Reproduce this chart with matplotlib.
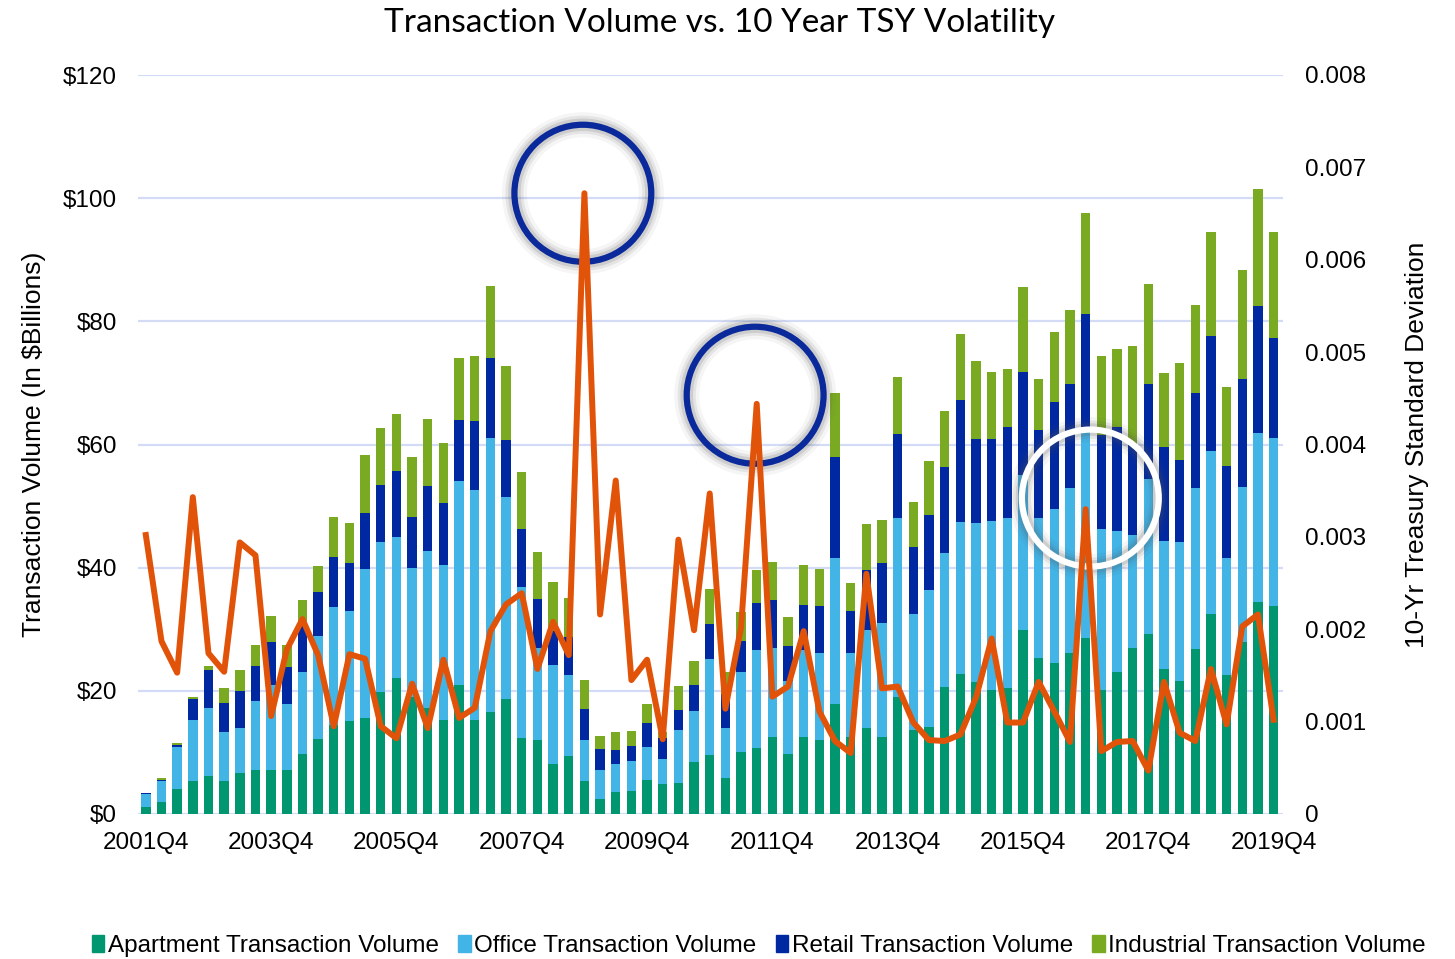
import matplotlib
matplotlib.use('Agg')
import matplotlib.pyplot as plt
import numpy as np
from matplotlib.patches import Ellipse, Patch

# quarters 2001Q4 .. 2019Q4 (73 bars)
n_quarters = 73
tick_labels = ['2001Q4', '2003Q4', '2005Q4', '2007Q4', '2009Q4',
               '2011Q4', '2013Q4', '2015Q4', '2017Q4', '2019Q4']

# transaction volume, $ billions
apartment = [1.2, 2.0, 4.1, 5.3, 6.2, 5.3, 6.6, 7.2, 7.2, 7.2,
             9.7, 12.1, 14.4, 15.1, 15.6, 19.8, 22.1, 19.0, 17.2, 15.3,
             21.0, 15.3, 16.5, 18.7, 12.3, 12.0, 8.1, 9.4, 5.3, 2.4,
             3.5, 3.7, 5.6, 4.9, 5.1, 8.5, 9.6, 5.9, 10.1, 10.7,
             12.5, 9.8, 12.5, 12.0, 17.8, 12.5, 13.9, 12.5, 19.0, 13.6,
             14.1, 20.6, 22.8, 21.4, 20.1, 20.4, 29.8, 25.3, 24.5, 26.2,
             28.6, 20.1, 23.0, 27.0, 29.3, 23.6, 21.6, 26.8, 32.4, 22.5,
             27.9, 34.4, 33.7]
office = [2.1, 3.3, 6.7, 9.9, 11.0, 8.0, 7.4, 11.2, 13.7, 10.6,
          13.4, 16.8, 19.2, 17.9, 24.2, 24.4, 22.9, 20.9, 25.5, 25.2,
          33.0, 37.3, 44.5, 32.7, 24.6, 14.9, 16.1, 13.2, 6.7, 4.8,
          4.6, 4.9, 5.2, 4.1, 8.5, 8.3, 15.6, 8.1, 12.9, 15.9,
          14.4, 11.8, 14.1, 14.1, 23.7, 13.7, 15.9, 18.5, 29.0, 18.8,
          22.2, 21.8, 24.6, 25.9, 27.5, 27.6, 25.2, 22.8, 25.0, 26.8,
          33.5, 26.1, 22.9, 18.3, 25.1, 20.8, 22.6, 26.2, 26.5, 19.1,
          25.2, 27.5, 27.3]
retail = [0.1, 0.3, 0.4, 3.5, 6.2, 4.7, 6.0, 5.7, 7.0, 6.0,
          7.6, 7.2, 8.2, 7.7, 9.1, 9.2, 10.7, 8.4, 10.5, 10.0,
          9.9, 11.2, 13.0, 9.4, 9.4, 8.0, 5.5, 6.2, 5.0, 3.4,
          2.3, 2.4, 3.9, 3.3, 3.3, 4.1, 5.7, 5.5, 5.1, 7.6,
          7.9, 5.6, 7.3, 7.6, 16.4, 6.7, 9.9, 9.8, 13.7, 10.9,
          12.3, 13.9, 19.9, 13.6, 13.3, 14.8, 16.7, 14.3, 17.4, 16.8,
          19.1, 15.3, 16.9, 14.8, 15.5, 15.2, 13.3, 15.3, 18.7, 14.9,
          17.5, 20.6, 16.3]
industrial = [0.0, 0.2, 0.4, 0.3, 0.7, 2.5, 3.4, 3.3, 4.3, 3.6,
              4.0, 4.2, 6.4, 6.6, 9.4, 9.2, 9.2, 9.6, 10.9, 9.8,
              10.2, 10.6, 11.7, 12.0, 9.3, 7.7, 8.0, 6.2, 4.7, 2.1,
              2.9, 2.4, 3.1, 1.0, 3.9, 4.0, 5.6, 3.6, 4.7, 5.4,
              6.1, 4.8, 6.6, 6.1, 10.4, 4.6, 7.4, 7.0, 9.3, 7.4,
              8.8, 9.1, 10.6, 12.7, 10.8, 9.5, 13.9, 8.3, 11.3, 12.1,
              16.4, 12.8, 12.7, 15.9, 16.1, 12.0, 15.8, 14.4, 16.9, 12.8,
              17.7, 19.0, 17.2]

# 10-yr treasury standard deviation
tsy_sd = [0.00302, 0.00187, 0.00153, 0.00343, 0.00174, 0.00154, 0.00294, 0.00280, 0.00106, 0.00178,
          0.00211, 0.00172, 0.00095, 0.00173, 0.00168, 0.00095, 0.00082, 0.00141, 0.00093, 0.00167,
          0.00104, 0.00115, 0.00198, 0.00227, 0.00239, 0.00157, 0.00208, 0.00172, 0.00672, 0.00216,
          0.00361, 0.00145, 0.00167, 0.00081, 0.00297, 0.00199, 0.00347, 0.00114, 0.00202, 0.00444,
          0.00127, 0.00138, 0.00198, 0.00111, 0.00079, 0.00066, 0.00260, 0.00136, 0.00138, 0.00099,
          0.00080, 0.00079, 0.00086, 0.00126, 0.00190, 0.00099, 0.00099, 0.00143, 0.00111, 0.00078,
          0.00330, 0.00068, 0.00078, 0.00079, 0.00047, 0.00143, 0.00088, 0.00079, 0.00157, 0.00097,
          0.00203, 0.00216, 0.00102]

# highlighted spots: (bar index, $ level, ring colour)
circles = [(27.9, 100.8, '#0a2a9c'), (38.9, 68.0, '#0a2a9c'), (60.3, 51.3, 'white')]

c_apt = '#00966f'
c_off = '#42b4e6'
c_ret = '#0028a0'
c_ind = '#7aaa22'
c_line = '#e2530a'

arial = 'Liberation Sans'

fig = plt.figure(figsize=(14.55, 9.59), dpi=100)
ax = fig.add_axes([138/1455, 1-814/959, (1283-138)/1455, (814-75)/959])

x = np.arange(n_quarters)
apt = np.array(apartment)
off = np.array(office)
ret = np.array(retail)
ind = np.array(industrial)
w = 0.6
ax.bar(x, apt, w, color=c_apt, zorder=2)
ax.bar(x, off, w, bottom=apt, color=c_off, zorder=2)
ax.bar(x, ret, w, bottom=apt+off, color=c_ret, zorder=2)
ax.bar(x, ind, w, bottom=apt+off+ret, color=c_ind, zorder=2)

ax.set_xlim(-0.5, 72.6)
ax.set_ylim(0, 120)
ax.set_yticks(range(0, 121, 20))
ax.set_yticklabels(['$%d' % v for v in range(0, 121, 20)], fontsize=17.5, family=arial)
ax.set_xticks(range(0, n_quarters, 8))
ax.set_xticklabels(tick_labels, fontsize=17.5, family=arial)
ax.tick_params(axis='both', length=0)
ax.tick_params(axis='y', pad=15)
ax.tick_params(axis='x', pad=13)
ax.grid(axis='y', color='#d3dbf7', lw=1.6, zorder=0)
ax.set_axisbelow(True)
for s in ax.spines.values():
    s.set_visible(False)
ax.set_ylabel('Transaction Volume (In $Billions)', fontsize=19, family=arial, labelpad=12)

# circles with soft shadow
for cx, cy, col in circles:
    ew = 137/15.68
    eh = 137/6.158
    for lw, a in [(18, 0.06), (13, 0.10), (9, 0.16)]:
        ax.add_patch(Ellipse((cx, cy), ew, eh, fill=False, ec='#555555', lw=lw, alpha=a, zorder=3))
    ax.add_patch(Ellipse((cx, cy), ew, eh, fill=False, ec=col, lw=4.5, zorder=4))

ax2 = ax.twinx()
ax2.plot(x, tsy_sd, color=c_line, lw=4.3, solid_joinstyle='round', zorder=5)
ax2.set_ylim(0, 0.008)
ax2.set_yticks([i/1000 for i in range(9)])
ax2.set_yticklabels(['0'] + ['%.3f' % (i/1000) for i in range(1, 9)], fontsize=17.5, family=arial)
ax2.tick_params(axis='y', length=0, pad=16)
for s in ax2.spines.values():
    s.set_visible(False)
ax2.set_ylabel('10-Yr Treasury Standard Deviation', fontsize=19, family=arial,
               rotation=90, labelpad=28)

fig.text(720/1455, 1-23/959, 'Transaction Volume vs. 10 Year TSY Volatility',
         ha='center', va='center', fontsize=24, family='Lato')

handles = [Patch(color=c_apt), Patch(color=c_off), Patch(color=c_ret), Patch(color=c_ind)]
labels = ['Apartment Transaction Volume', 'Office Transaction Volume',
          'Retail Transaction Volume', 'Industrial Transaction Volume']
fig.legend(handles, labels, loc='center', bbox_to_anchor=(759/1455, 1-946/959), ncol=4,
           frameon=False, prop={'family': arial, 'size': 17.5}, handlelength=0.5,
           handleheight=0.7, handletextpad=0.15, columnspacing=0.8)

fig.savefig('out.png', dpi=100)
